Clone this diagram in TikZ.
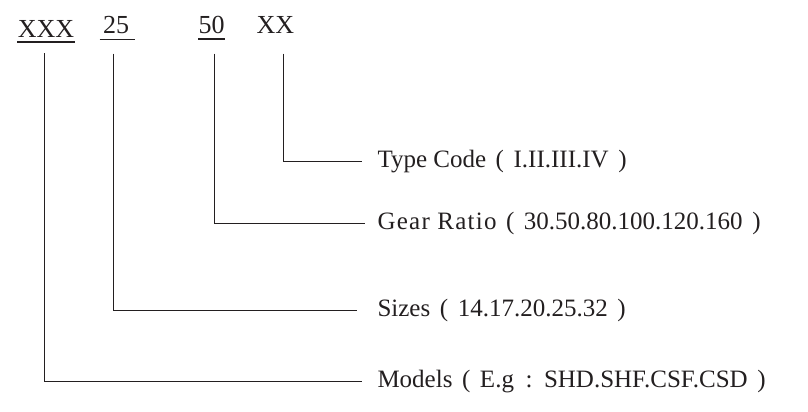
\documentclass[tikz,border=0pt]{standalone}
\usepackage{fontspec}
\setmainfont{Liberation Serif}
\usetikzlibrary{positioning}
\definecolor{ink}{HTML}{231F20}
% full-width brackets and colon, glyph centred in its box
\newcommand{\lpar}{\makebox[1.1em]{(}}
\newcommand{\rpar}{\makebox[1.1em]{)}}
\newcommand{\fwcolon}{\makebox[1.2em]{:}}

\begin{document}
\begin{tikzpicture}[x=0.5pt, y=-0.5pt, ink, line width=0.5pt]
    % Define block styles
    \tikzstyle{code} = [inner sep=0pt, font=\fontsize{13}{15}\selectfont, anchor=base]
    \tikzstyle{desc} = [inner sep=0pt, font=\fontsize{12.5}{15}\selectfont, anchor=base west]
    \tikzstyle{line} = [-, shorten <=10pt, shorten >=7.5pt]
    \tikzstyle{uline} = [line width=0.75pt]

    \useasboundingbox (0,0) rectangle (808,412);

    % Code fields
    \node [code] (model) at (46,37) {XXX};
    \node [code] (size) at (116,33.5) {25};
    \node [code] (ratio) at (211.5,33.5) {50};
    \node [code] (type) at (275.5,33.5) {XX};

    % Descriptions
    \node [desc] (typeDesc) at (377,167) {Type Code\lpar I.II.III.IV\rpar};
    \node [desc] (ratioDesc) at (377,229) {{\addfontfeature{LetterSpace=5}Gear Ratio}\lpar 30.50.80.100.120.160\rpar};
    \node [desc] (sizeDesc) at (377,316) {Sizes\lpar 14.17.20.25.32\rpar};
    \node [desc] (modelDesc) at (377,387) {Models\lpar E.g\fwcolon SHD.SHF.CSF.CSD\rpar};

    % Underlines
    \draw[uline] ([yshift=-2.5pt]model.base west) -- ([yshift=-2.5pt]model.base east);
    \draw ([xshift=-1.5pt,yshift=-3pt]size.base west) -- ([xshift=2.5pt,yshift=-3pt]size.base east);
    \draw[line width=0.65pt] ([yshift=-2.75pt]ratio.base west) -- ([yshift=-2.75pt]ratio.base east);

    % Connections
    \draw[line, shorten <=8pt] ([xshift=-1pt]model.base) |- ([yshift=3pt]modelDesc.base west);
    \draw[line, shorten >=10pt] ([xshift=-1.5pt]size.base) |- ([yshift=3pt]sizeDesc.base west);
    \draw[line, shorten >=6pt] ([xshift=1.25pt]ratio.base) |- ([yshift=3pt]ratioDesc.base west);
    \draw[line] ([xshift=3.75pt]type.base) |- ([yshift=3pt]typeDesc.base west);

\end{tikzpicture}
\end{document}
